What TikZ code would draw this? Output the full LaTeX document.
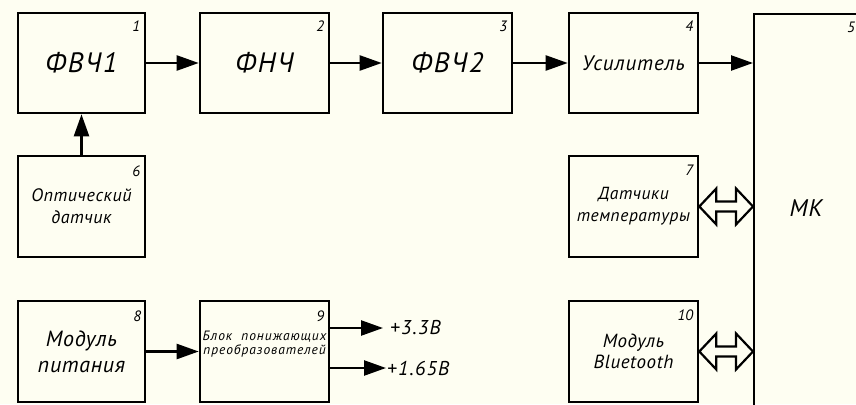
\documentclass[tikz,border=0pt]{standalone}
\usepackage{fontspec}
\setmainfont{PT Sans}
\usetikzlibrary{arrows.meta,calc}

\definecolor{paper}{HTML}{FEFEF2}

% italic drafting lettering with a little extra tracking
\newcommand{\lettering}[3]{\fontsize{#1}{#2}\selectfont\itshape\addfontfeature{LetterSpace=#3}}

\tikzset{
  blk/.style={draw, line width=2.6pt, minimum width=127pt, minimum height=100pt,
    inner sep=0pt, align=center},
  wide/.style={minimum width=129pt},
  num/.style={anchor=north east, inner sep=0pt, font=\lettering{15}{15}{0}},
  big/.style={font=\lettering{28}{30}{6}},
  arr/.style={line width=2.4pt, -{Triangle[length=22pt,width=15pt]}},
  bidir/.style={line width=2.2pt, fill=paper, line join=miter},
}

\newcommand{\bidirarrow}[2]{%
  \draw[bidir] (#1) -- ++(17,-18) -- ++(0,13) -- ($(#2)+(-17,-5)$) -- ++(0,-13)
    -- (#2) -- ++(-17,18) -- ++(0,-13) -- ($(#1)+(17,5)$) -- ++(0,13) -- cycle;}

\begin{document}
\begin{tikzpicture}[x=1pt,y=-1pt]
  \useasboundingbox (0,0) rectangle (856,404);
  \fill[paper] (0,0) rectangle (856,404);
  \clip (0,0) rectangle (856,404);

  % signal chain
  \node[blk, big] (b1) at (81.5,63) {ФВЧ1};
  \node[blk, wide, big] (b2) at (264.5,63) {ФНЧ};
  \node[blk, wide, big] (b3) at (447.5,63) {ФВЧ2};
  \node[blk, wide, font=\lettering{21}{22}{4}] (b4) at (633.5,63) {Усилитель};

  % microcontroller
  \node[draw, line width=2.2pt, anchor=north west, minimum width=160pt,
        minimum height=440pt, inner sep=0pt] (mk) at (753,13) {};
  \node[font=\lettering{24}{24}{4}] (mkl) at (806,208) {МК};

  % sensors and peripherals
  \node[blk, minimum height=101pt, font=\lettering{18}{22}{3}] (b6) at (81.5,206.5)
    {Оптический\\датчик};
  \node[blk, wide, minimum height=101pt, font=\lettering{17.5}{22}{3}] (b7) at (633.5,206.5)
    {Датчики\\температуры};
  \node[blk, minimum height=101pt, font=\lettering{22}{26}{3}] (b8) at (81.5,351.5)
    {Модуль\\питания};
  \node[blk, wide, minimum height=101pt, font=\lettering{13.5}{14}{7}] (b9) at (264.5,351.5)
    {Блок\ \ понижающих\\преобразователей\\[4pt]};
  \node[blk, wide, minimum height=101pt, font=\lettering{19}{21}{3}] (b10) at (633.5,351.5)
    {Модуль\\Bluetooth};

  % block numbers
  \node[num] (n1) at ($(b1.north east)+(-6,9)$) {1};
  \node[num] (n2) at ($(b2.north east)+(-6,9)$) {2};
  \node[num] (n3) at ($(b3.north east)+(-6,9)$) {3};
  \node[num] (n4) at ($(b4.north east)+(-6,9)$) {4};
  \node[num] (n5) at (855,22) {5};
  \node[num] (n6) at ($(b6.north east)+(-6,11)$) {6};
  \node[num] (n7) at ($(b7.north east)+(-6,10)$) {7};
  \node[num] (n8) at ($(b8.north east)+(-5,11)$) {8};
  \node[num] (n9) at ($(b9.north east)+(-6,11)$) {9};
  \node[num] (n10) at ($(b10.north east)+(-6,10)$) {10};

  % output voltages
  \node[anchor=west, inner sep=0pt, font=\lettering{20}{20}{6}] (v1) at (390,328) {+3.3В};
  \node[anchor=west, inner sep=0pt, font=\lettering{20}{20}{6}] (v2) at (387,368) {+1.65В};
  \coordinate (t1) at ($(v1.west)+(-7,0)$);
  \coordinate (t2) at ($(v2.west)+(-1,0)$);

  % connectors
  \draw[arr] (b1.east) -- (b2.west);
  \draw[arr] (b2.east) -- (b3.west);
  \draw[arr] (b3.east) -- (b4.west);
  \draw[arr] (b4.east) -- (b4.east -| mk.west);
  \draw[arr] (b6.north) -- (b1.south);
  \draw[arr] (b8.east) -- (b9.west);
  \draw[arr] (b9.east |- t1) -- (t1);
  \draw[arr] (b9.east |- t2) -- (t2);

  \bidirarrow{b7.east}{b7.east -| mk.west}
  \bidirarrow{b10.east}{b10.east -| mk.west}
\end{tikzpicture}
\end{document}
